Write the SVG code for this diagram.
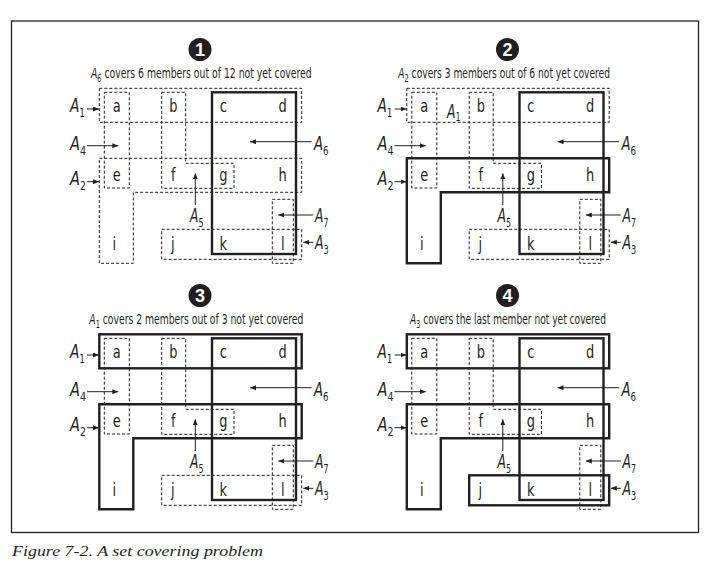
<svg xmlns="http://www.w3.org/2000/svg" width="705" height="569" viewBox="0 0 705 569">
<style>
.d{fill:none;stroke:#231f20;stroke-width:1;stroke-dasharray:3 2}
.s{fill:none;stroke:#231f20;stroke-width:2.4}
.t{font-family:'Liberation Sans Narrow','DejaVu Sans Condensed','Liberation Sans',sans-serif;fill:#231f20}
.lt{font-size:18px;text-anchor:middle}
.lb{font-size:20px;font-style:italic}
.sb{font-size:13px;font-style:normal}
.ti{font-size:14px}
.tia{font-style:italic}
.tsb{font-size:10px}
.ar{stroke:#231f20;stroke-width:1;fill:none;marker-end:url(#ah)}
.num{font-family:'Liberation Sans Narrow','Liberation Sans',sans-serif;font-weight:bold;font-size:18px;fill:#fff;text-anchor:middle}
.cap{font-family:'Liberation Serif',serif;font-style:italic;font-size:15px;fill:#231f20}
</style>
<defs>
<marker id="ah" markerUnits="userSpaceOnUse" markerWidth="7" markerHeight="6" refX="6" refY="2.5" orient="auto">
<path d="M0,0 L6,2.5 L0,5 z" fill="#231f20"/>
</marker>
<g id="letters">
<text class="t lt" transform="translate(116.7,112) scale(0.8,1)">a</text>
<text class="t lt" transform="translate(173.3,112) scale(0.8,1)">b</text>
<text class="t lt" transform="translate(223.3,112) scale(0.8,1)">c</text>
<text class="t lt" transform="translate(282.7,112) scale(0.8,1)">d</text>
<text class="t lt" transform="translate(116.7,180.5) scale(0.8,1)">e</text>
<text class="t lt" transform="translate(173.3,180.5) scale(0.8,1)">f</text>
<text class="t lt" transform="translate(223.3,180.5) scale(0.8,1)">g</text>
<text class="t lt" transform="translate(282.7,180.5) scale(0.8,1)">h</text>
<text class="t lt" transform="translate(114.3,250) scale(0.8,1)">i</text>
<text class="t lt" transform="translate(172.7,250) scale(0.8,1)">j</text>
<text class="t lt" transform="translate(223.3,250) scale(0.8,1)">k</text>
<text class="t lt" transform="translate(282.7,250) scale(0.8,1)">l</text>
</g>
<g id="labels">
<text class="t lb" x="70" y="112.3" textLength="15" lengthAdjust="spacingAndGlyphs">A<tspan class="sb" dy="5">1</tspan></text>
<text class="t lb" x="70" y="150" textLength="16" lengthAdjust="spacingAndGlyphs">A<tspan class="sb" dy="5">4</tspan></text>
<text class="t lb" x="70" y="185" textLength="16" lengthAdjust="spacingAndGlyphs">A<tspan class="sb" dy="5">2</tspan></text>
<text class="t lb" x="314" y="150" textLength="14.5" lengthAdjust="spacingAndGlyphs">A<tspan class="sb" dy="5">6</tspan></text>
<text class="t lb" x="190" y="221.7" textLength="13.5" lengthAdjust="spacingAndGlyphs">A<tspan class="sb" dy="5">5</tspan></text>
<text class="t lb" x="315" y="221.7" textLength="13.5" lengthAdjust="spacingAndGlyphs">A<tspan class="sb" dy="5">7</tspan></text>
<text class="t lb" x="315" y="249.3" textLength="13.7" lengthAdjust="spacingAndGlyphs">A<tspan class="sb" dy="5">3</tspan></text>
</g>
<g id="arrows">
<line class="ar" x1="87" y1="109" x2="99" y2="109"/>
<line class="ar" x1="87" y1="145.7" x2="118.3" y2="145.7"/>
<line class="ar" x1="87" y1="181.7" x2="99" y2="181.7"/>
<line class="ar" x1="311.7" y1="141.7" x2="250" y2="141.7"/>
<line class="ar" x1="195.3" y1="205" x2="195.3" y2="173.3"/>
<line class="ar" x1="313.3" y1="215" x2="278.3" y2="215"/>
<line class="ar" x1="313.3" y1="242.3" x2="303.3" y2="242.3"/>
</g>
</defs>

<rect x="11.5" y="21" width="687" height="511.5" fill="none" stroke="#231f20" stroke-width="1.3"/>

<!-- Panel 1 -->
<g id="panel1">
<g id="p1-step"><circle cx="200" cy="49.5" r="11.5" fill="#231f20"/><text class="num" x="200" y="56">1</text></g>
<text id="p1-title" class="t ti" x="91" y="78.3" textLength="220.7" lengthAdjust="spacingAndGlyphs"><tspan class="tia">A</tspan><tspan class="tsb" dy="4">6</tspan><tspan dy="-4"> covers 6 members out of 12 not yet covered</tspan></text>
<g id="p1-A1"><rect class="d" x="99.3" y="88.3" width="202.4" height="34"/></g>
<g id="p1-A4"><rect class="d" x="104.3" y="92.3" width="25" height="95.7"/></g>
<g id="p1-A5"><path class="d" d="M161.7,92.3 H185.7 V163.3 H234 V188.3 H161.7 Z"/></g>
<g id="p1-A2"><path class="d" d="M99.3,158.3 H301.7 V192.3 H133.3 V263.3 H99.3 Z"/></g>
<g id="p1-A3"><rect class="d" x="161.7" y="229.3" width="140" height="30"/></g>
<g id="p1-A7"><rect class="d" x="272.3" y="199.3" width="21" height="64"/></g>
<g id="p1-A6"><rect class="s" x="212" y="92.3" width="84" height="161.7"/></g>
<g id="p1-elements"><use href="#letters"/></g>
<g id="p1-setlabels"><use href="#labels"/></g>
<g id="p1-connectors"><use href="#arrows"/></g>
</g>

<!-- Panel 2 -->
<g id="panel2" transform="translate(307.5,0)">
<g id="p2-step"><circle cx="200" cy="49.5" r="11.5" fill="#231f20"/><text class="num" x="200" y="56">2</text></g>
<text id="p2-title" class="t ti" x="90.8" y="78.3" textLength="211.7" lengthAdjust="spacingAndGlyphs"><tspan class="tia">A</tspan><tspan class="tsb" dy="4">2</tspan><tspan dy="-4"> covers 3 members out of 6 not yet covered</tspan></text>
<g id="p2-A1"><rect class="d" x="99.3" y="88.3" width="202.4" height="34"/></g>
<g id="p2-A4"><rect class="d" x="104.3" y="92.3" width="25" height="95.7"/></g>
<g id="p2-A5"><path class="d" d="M161.7,92.3 H185.7 V163.3 H234 V188.3 H161.7 Z"/></g>
<g id="p2-A3"><rect class="d" x="161.7" y="229.3" width="140" height="30"/></g>
<g id="p2-A7"><rect class="d" x="272.3" y="199.3" width="21" height="64"/></g>
<g id="p2-A2"><path class="s" d="M99.3,158.3 H301.7 V192.3 H133.3 V263.3 H99.3 Z"/></g>
<g id="p2-A6"><rect class="s" x="212" y="92.3" width="84" height="161.7"/></g>
<g id="p2-elements"><use href="#letters"/></g>
<g id="p2-setlabels"><use href="#labels"/>
<text class="t lb" x="139.5" y="118" textLength="13.5" lengthAdjust="spacingAndGlyphs">A<tspan class="sb" dy="3">1</tspan></text></g>
<g id="p2-connectors"><use href="#arrows"/></g>
</g>

<!-- Panel 3 -->
<g id="panel3" transform="translate(0,246)">
<g id="p3-step"><circle cx="200" cy="49.5" r="11.5" fill="#231f20"/><text class="num" x="200" y="56">3</text></g>
<text id="p3-title" class="t ti" x="89.3" y="78.3" textLength="214" lengthAdjust="spacingAndGlyphs"><tspan class="tia">A</tspan><tspan class="tsb" dy="4">1</tspan><tspan dy="-4"> covers 2 members out of 3 not yet covered</tspan></text>
<g id="p3-A4"><rect class="d" x="104.3" y="92.3" width="25" height="95.7"/></g>
<g id="p3-A5"><path class="d" d="M161.7,92.3 H185.7 V163.3 H234 V188.3 H161.7 Z"/></g>
<g id="p3-A3"><rect class="d" x="161.7" y="229.3" width="140" height="30"/></g>
<g id="p3-A7"><rect class="d" x="272.3" y="199.3" width="21" height="64"/></g>
<g id="p3-A1"><rect class="s" x="99.3" y="88.3" width="202.4" height="34"/></g>
<g id="p3-A2"><path class="s" d="M99.3,158.3 H301.7 V192.3 H133.3 V263.3 H99.3 Z"/></g>
<g id="p3-A6"><rect class="s" x="212" y="92.3" width="84" height="161.7"/></g>
<g id="p3-elements"><use href="#letters"/></g>
<g id="p3-setlabels"><use href="#labels"/></g>
<g id="p3-connectors"><use href="#arrows"/></g>
</g>

<!-- Panel 4 -->
<g id="panel4" transform="translate(307.5,246)">
<g id="p4-step"><circle cx="200" cy="49.5" r="11.5" fill="#231f20"/><text class="num" x="200" y="56">4</text></g>
<text id="p4-title" class="t ti" x="102.5" y="78.3" textLength="196" lengthAdjust="spacingAndGlyphs"><tspan class="tia">A</tspan><tspan class="tsb" dy="4">3</tspan><tspan dy="-4"> covers the last member not yet covered</tspan></text>
<g id="p4-A4"><rect class="d" x="104.3" y="92.3" width="25" height="95.7"/></g>
<g id="p4-A5"><path class="d" d="M161.7,92.3 H185.7 V163.3 H234 V188.3 H161.7 Z"/></g>
<g id="p4-A7"><rect class="d" x="272.3" y="199.3" width="21" height="64"/></g>
<g id="p4-A1"><rect class="s" x="99.3" y="88.3" width="202.4" height="34"/></g>
<g id="p4-A2"><path class="s" d="M99.3,158.3 H301.7 V192.3 H133.3 V263.3 H99.3 Z"/></g>
<g id="p4-A3"><rect class="s" x="161.7" y="229.3" width="140" height="30"/></g>
<g id="p4-A6"><rect class="s" x="212" y="92.3" width="84" height="161.7"/></g>
<g id="p4-elements"><use href="#letters"/></g>
<g id="p4-setlabels"><use href="#labels"/></g>
<g id="p4-connectors"><use href="#arrows"/></g>
</g>

<text class="cap" x="12" y="556" textLength="251" lengthAdjust="spacingAndGlyphs">Figure 7-2. A set covering problem</text>
</svg>
